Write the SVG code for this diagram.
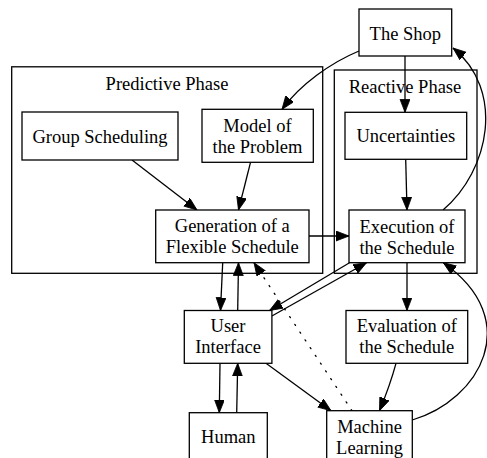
<svg xmlns="http://www.w3.org/2000/svg" width="487" height="458" viewBox="0 0 487 458">
<style>
  .box { fill: #ffffff; stroke: #000000; stroke-width: 1.3; }
  .cluster { fill: none; stroke: #000000; stroke-width: 1.3; }
  .lbl { font-family: "Liberation Serif", "Times New Roman", serif; font-size: 18.5px; fill: #000000; text-anchor: middle; }
  .edge { fill: none; stroke: #000000; stroke-width: 1.3; marker-end: url(#arrow); }
  .dotted { stroke-dasharray: 1.3 8; stroke-linecap: round; }
</style>
<defs>
  <marker id="arrow" markerUnits="userSpaceOnUse" markerWidth="14" markerHeight="11" refX="13" refY="5" orient="auto">
    <path d="M0,0 L13,5 L0,10 z" fill="#000000" stroke="#000000" stroke-width="0.8"/>
  </marker>
</defs>
<rect width="487" height="458" fill="#ffffff"/>
<g id="cluster_predictive">
  <rect class="cluster" x="11.7" y="66.8" width="311" height="206.5"/>
  <text class="lbl" x="167" y="90">Predictive Phase</text>
</g>
<g id="cluster_reactive">
  <rect class="cluster" x="334.3" y="70" width="142.7" height="203.3"/>
  <text class="lbl" x="405" y="93">Reactive Phase</text>
</g>
<g id="connectors">
  <path class="edge" d="M132,160 L197,210"/>
  <path class="edge" d="M250.5,162.3 L238.5,210"/>
  <path class="edge" d="M359,51 C330,63 300,85 282,109.3"/>
  <path class="edge" d="M405,56 L405,112.3"/>
  <path class="edge" d="M405.7,159.3 L407,210"/>
  <path class="edge" d="M443,210 C490,170 505,90 453,48"/>
  <path class="edge" d="M309,236 L349,236"/>
  <path class="edge" d="M222.7,262.7 L220.5,310.5"/>
  <path class="edge" d="M237.7,310.5 L238.5,262.7"/>
  <path class="edge" d="M349.5,262.7 L269.5,310.5"/>
  <path class="edge" d="M271.9,316 L366.5,262.7"/>
  <path class="edge" d="M220,363.3 L219.3,412.7"/>
  <path class="edge" d="M236.7,412.7 L237.7,363.3"/>
  <path class="edge" d="M266,363.3 L331,410.7"/>
  <path class="edge" d="M407,262.7 L407,310.5"/>
  <path class="edge" d="M396,363.3 C392,378 386,395 379.5,410.7"/>
  <path class="edge" d="M412.3,420 C480,400 525,320 443.3,262.7"/>
  <path class="edge dotted" d="M352,410.7 L254,262.7"/>
</g>
<g id="node_shop">
  <rect class="box" x="359" y="9" width="92.7" height="47"/>
  <text class="lbl" x="405.3" y="40">The Shop</text>
</g>
<g id="node_group">
  <rect class="box" x="22" y="112" width="156" height="48"/>
  <text class="lbl" x="100" y="143">Group Scheduling</text>
</g>
<g id="node_model">
  <rect class="box" x="202" y="109.3" width="111.3" height="53"/>
  <text class="lbl" x="257.5" y="131.7">Model of</text>
  <text class="lbl" x="257.5" y="152.7">the Problem</text>
</g>
<g id="node_uncertainties">
  <rect class="box" x="345" y="112.3" width="121.7" height="47"/>
  <text class="lbl" x="405.8" y="141.7">Uncertainties</text>
</g>
<g id="node_generation">
  <rect class="box" x="155.7" y="210" width="153.3" height="52.7"/>
  <text class="lbl" x="232.3" y="232.3">Generation of a</text>
  <text class="lbl" x="232.3" y="253.3">Flexible Schedule</text>
</g>
<g id="node_execution">
  <rect class="box" x="349" y="210" width="116" height="52.7"/>
  <text class="lbl" x="407" y="233">Execution of</text>
  <text class="lbl" x="407" y="254">the Schedule</text>
</g>
<g id="node_ui">
  <rect class="box" x="184.3" y="310.5" width="87.6" height="52.8"/>
  <text class="lbl" x="228" y="331.7">User</text>
  <text class="lbl" x="228" y="352.7">Interface</text>
</g>
<g id="node_evaluation">
  <rect class="box" x="346" y="310.5" width="121.7" height="52.8"/>
  <text class="lbl" x="406.8" y="331.7">Evaluation of</text>
  <text class="lbl" x="406.8" y="352.7">the Schedule</text>
</g>
<g id="node_human">
  <rect class="box" x="189.3" y="412.7" width="78" height="47"/>
  <text class="lbl" x="228.3" y="443.3">Human</text>
</g>
<g id="node_ml">
  <rect class="box" x="326.7" y="410.7" width="85.6" height="53"/>
  <text class="lbl" x="369.5" y="432.7">Machine</text>
  <text class="lbl" x="369.5" y="453.7">Learning</text>
</g>
</svg>
